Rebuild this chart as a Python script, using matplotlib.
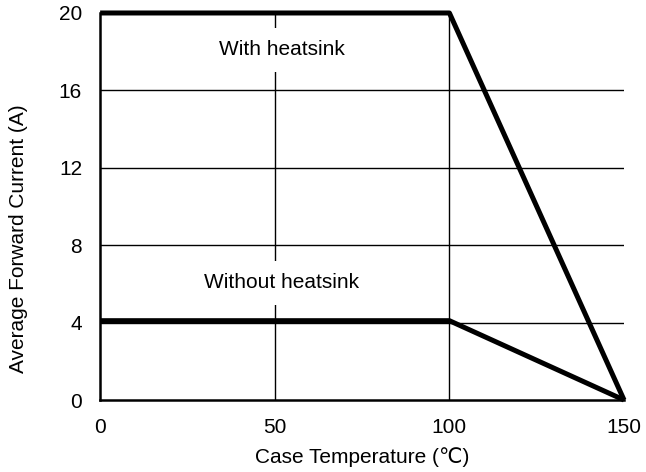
import matplotlib
matplotlib.use("Agg")
import matplotlib.pyplot as plt

# Derating curves (case temperature in degC, current in A)
temp_with = [0, 100, 150]
current_with = [20, 20, 0]
temp_without = [0, 100, 150]
current_without = [4.1, 4.1, 0]

x_ticks = [0, 50, 100, 150]
y_ticks = [0, 4, 8, 12, 16, 20]

plt.rcParams['font.family'] = ['Liberation Sans', 'DejaVu Sans']
plt.rcParams['font.size'] = 15

fig = plt.figure(figsize=(6.46, 4.72), dpi=100)
ax = fig.add_axes([0.155, 0.1525, 0.811, 0.82])

# grid lines
for x in x_ticks[1:3]:
    ax.axvline(x, color='black', lw=1.0, zorder=1)
for y in y_ticks[1:5]:
    ax.axhline(y, color='black', lw=1.0, zorder=1)

ax.plot(temp_with, current_with, color='black', lw=3.6, zorder=3,
        solid_capstyle='butt', clip_on=False)
ax.plot(temp_without, current_without, color='black', lw=3.6, zorder=3,
        solid_capstyle='butt', clip_on=False)

ax.text(52, 18.1, "With heatsink", ha='center', va='center', zorder=2,
        bbox=dict(facecolor='white', edgecolor='none', boxstyle='square,pad=0.6'))
ax.text(52, 6.05, "Without heatsink", ha='center', va='center', zorder=2,
        bbox=dict(facecolor='white', edgecolor='none', boxstyle='square,pad=0.6'))

ax.set_xlim(0, 150)
ax.set_ylim(0, 20)
ax.set_xticks(x_ticks)
ax.set_yticks(y_ticks)
ax.tick_params(length=0)
ax.tick_params(axis='x', pad=13)
ax.tick_params(axis='y', pad=13)

for side in ['top', 'right']:
    ax.spines[side].set_visible(False)
for side in ['left', 'bottom']:
    ax.spines[side].set_linewidth(1.8)

ax.set_xlabel("Case Temperature (℃)", labelpad=7)
ax.set_ylabel("Average Forward Current (A)", labelpad=22, y=0.416)

fig.savefig("out.png", dpi=100)
